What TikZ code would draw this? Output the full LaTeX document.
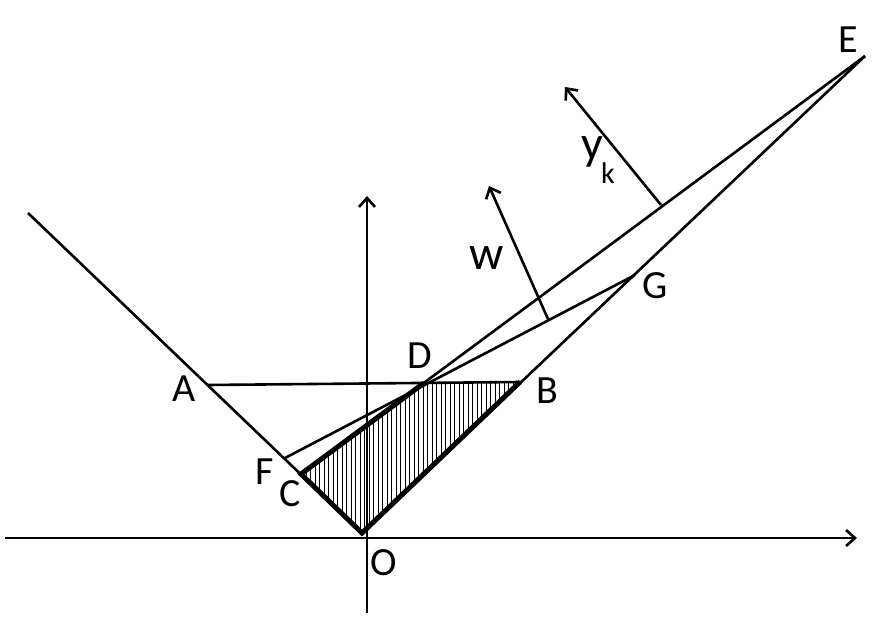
\documentclass[tikz,border=0pt]{standalone}
\usepackage{fontspec}
\setmainfont{Carlito}
\usetikzlibrary{arrows.meta,patterns.meta}
\tikzset{
  ray/.style={line width=2.6pt},
  edge/.style={line width=5pt, line join=miter},
  vec/.style={line width=2.6pt, -{Straight Barb[length=9pt,width=16pt,line width=2.6pt]}},
  pt/.style={font=\fontsize{40}{40}\selectfont, inner sep=0pt},
  big/.style={font=\fontsize{48}{48}\selectfont, inner sep=0pt}
}
\begin{document}
\begin{tikzpicture}[x=1pt,y=-1pt]
\useasboundingbox (0,0) rectangle (885,621);
\coordinate (O) at (362,533);
\coordinate (L) at (28,213);
\coordinate (A) at (208,385);
\coordinate (B) at (520,382);
\coordinate (C) at (301,474);
\coordinate (D) at (424,383);
\coordinate (E) at (865,56);
\coordinate (F) at (285,458);
\coordinate (G) at (635,275);
\coordinate (Wb) at (548,319);
\coordinate (Wt) at (489,186);
\coordinate (Yb) at (661,205);
\coordinate (Yt) at (565,87);
\coordinate (Xl) at (5,538);
\coordinate (Xr) at (857,538);
\coordinate (Ub) at (367,613);
\coordinate (Ut) at (367,196);
\fill[pattern={Lines[angle=90,distance=4.5pt,line width=0.9pt]}] (C) -- (D) -- (B) -- (O) -- cycle;
\draw[vec] (Xl) -- (Xr);
\draw[vec] (Ub) -- (Ut);
\draw[ray] (L) -- (O);
\draw[ray] (O) -- (E);
\draw[ray] (A) -- (B);
\draw[ray] (C) -- (E);
\draw[ray] (F) -- (G);
\draw[edge] (D) -- (C) -- (O) -- (B);
\draw[vec] (Wb) -- (Wt);
\draw[vec] (Yb) -- (Yt);
\node[pt] (lA) at (184,389) {A};
\node[pt] (lB) at (547,391) {B};
\node[pt] (lC) at (290,494) {C};
\node[pt] (lD) at (420,356) {D};
\node[pt] (lE) at (848,40) {E};
\node[pt] (lF) at (265,472) {F};
\node[pt] (lG) at (655,286) {G};
\node[pt] (lO) at (384,563) {O};
\node[big] (lw) at (487,258) {w};
\node[big] (ly) at (592,152) {y};
\node[pt, font=\fontsize{30}{30}\selectfont] (lk) at (608,173) {k};
\end{tikzpicture}
\end{document}
